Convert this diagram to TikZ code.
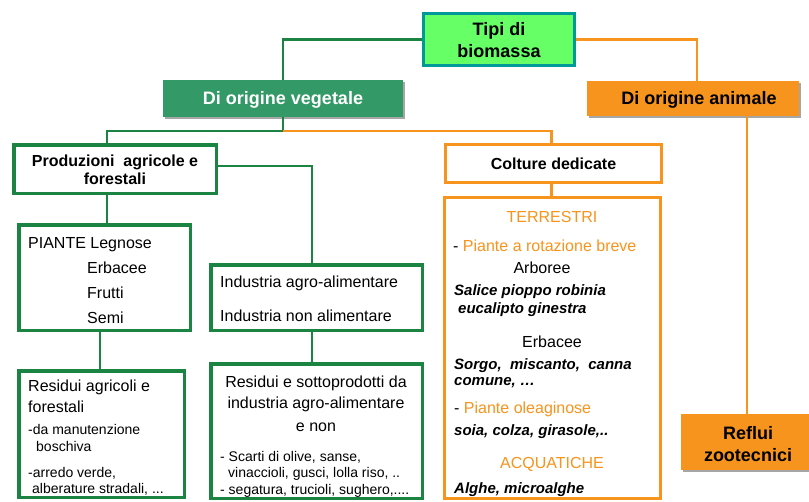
\documentclass[tikz,border=0pt]{standalone}
\usepackage{fontspec}
\setmainfont{Liberation Sans}
\usetikzlibrary{shadows}
\definecolor{gline}{HTML}{1C8442}
\definecolor{oline}{HTML}{F7941D}
\definecolor{tipifill}{HTML}{66FF66}
\definecolor{tipiborder}{HTML}{009999}
\definecolor{vegfill}{HTML}{339966}
\tikzset{
  glink/.style={draw=gline, line width=2.5pt},
  olink/.style={draw=oline, line width=2.5pt},
  gbox/.style={draw=gline, line width=3.5pt, fill=white, inner sep=0pt},
  obox/.style={draw=oline, line width=3pt, fill=white, inner sep=0pt},
  shd/.style={drop shadow={shadow xshift=1.5pt, shadow yshift=-1.5pt, fill=black, opacity=0.35}},
  tw/.style={inner sep=0pt, anchor=base west},
  tc/.style={inner sep=0pt, anchor=base},
  fb/.style={font=\fontsize{16}{19}\selectfont\bfseries},
  fr/.style={font=\fontsize{16}{19}\selectfont},
  fs/.style={font=\fontsize{14}{17}\selectfont},
  fi/.style={font=\fontsize{15}{18}\selectfont\bfseries\itshape},
  fl/.style={font=\fontsize{18}{22}\selectfont\bfseries},
}
\begin{document}
\begin{tikzpicture}[x=1pt,y=-1pt]
\useasboundingbox (0,0) rectangle (809,501);
\fill[white] (0,0) rectangle (809,501);

% helper coordinates for connector columns
\coordinate (c1) at (107,0);
\coordinate (c2) at (312,0);
\coordinate (c3) at (100,0);
\coordinate (c4) at (551.5,0);
\coordinate (c5) at (747,0);
\coordinate (c6) at (697,0);

% boxes
\node[draw=tipiborder, line width=3pt, fill=tipifill, inner sep=0pt, minimum width=151pt, minimum height=52pt] (tipi) at (499,39.5) {};
\node[fill=vegfill, shd, inner sep=0pt, minimum width=240pt, minimum height=37pt] (veg) at (283,98.5) {};
\node[fill=oline, shd, inner sep=0pt, minimum width=212pt, minimum height=35pt] (ani) at (693,98.5) {};
\node[gbox, minimum width=202.5pt, minimum height=48.5pt] (prod) at (115,169) {};
\node[gbox, minimum width=171.5pt, minimum height=105.5pt] (piante) at (104.5,277.5) {};
\node[gbox, minimum width=211.5pt, minimum height=65.5pt] (ind) at (316.5,297.5) {};
\node[gbox, minimum width=165.5pt, minimum height=126.5pt] (resA) at (101.5,434) {};
\node[gbox, minimum width=211.5pt, minimum height=134.5pt] (resB) at (316.5,431) {};
\node[obox, minimum width=216pt, minimum height=38pt] (colt) at (553.5,163.5) {};
\node[obox, minimum width=216pt, minimum height=301pt] (terr) at (552.5,348) {};
\node[fill=oline, shd, inner sep=0pt, minimum width=131pt, minimum height=56pt] (reflui) at (746.5,442) {};

% connectors
\coordinate (vj) at (283,131);
\draw[glink] (tipi.west) -| (veg.north);
\draw[olink] (tipi.east) -| (ani.north -| c6);
\draw[glink] (veg.south) -- (vj);
\draw[glink] (vj) -| (prod.north -| c1);
\draw[olink] (vj) -| (colt.north -| c4);
\draw[glink] (prod.south -| c1) -- (piante.north -| c1);
\draw[glink] ([yshift=3pt]prod.east) -| (ind.north -| c2);
\draw[glink] (piante.south -| c3) -- (resA.north -| c3);
\draw[glink] (ind.south -| c2) -- (resB.north -| c2);
\draw[olink] (colt.south -| c4) -- (terr.north -| c4);
\draw[olink] (ani.south -| c5) -- (reflui.north -| c5);

% texts: top
\node[tc, fl] (t1) at (499,35) {Tipi di};
\node[tc, fl] (t2) at (499,57) {biomassa};
\node[tc, fl, text=white] (t3) at (283,104) {Di origine vegetale};
\node[tc, fl] (t4) at (699,104) {Di origine animale};
\node[tc, fl] (t5) at (748,439) {Reflui};
\node[tc, fl] (t6) at (748,461) {zootecnici};

% left column
\node[tc, fb] (t7) at (115,166) {Produzioni\ \ agricole e};
\node[tc, fb] (t8) at (115,184) {forestali};
\node[tw, fr] (t9) at (28,248) {PIANTE Legnose};
\node[tw, fr] (t10) at (87,273) {Erbacee};
\node[tw, fr] (t11) at (87,298) {Frutti};
\node[tw, fr] (t12) at (87,323) {Semi};
\node[tw, fr] (t13) at (28,391) {Residui agricoli e};
\node[tw, fr] (t14) at (28,412) {forestali};
\node[tw, fs] (t15) at (28,434) {-da manutenzione};
\node[tw, fs] (t16) at (36,451) {boschiva};
\node[tw, fs] (t17) at (28,477) {-arredo verde,};
\node[tw, fs] (t18) at (32,493) {alberature stradali, ...};

% middle column
\node[tw, fr] (t19) at (220,287) {Industria agro-alimentare};
\node[tw, fr] (t20) at (220,321) {Industria non alimentare};
\node[tc, fr] (t21) at (316,387) {Residui e sottoprodotti da};
\node[tc, fr] (t22) at (316,408) {industria agro-alimentare};
\node[tc, fr] (t23) at (316,431) {e non};
\node[tw, fs] (t24) at (220,461) {- Scarti di olive, sanse,};
\node[tw, fs] (t25) at (228,477) {vinaccioli, gusci, lolla riso, ..};
\node[tw, fs] (t26) at (220,494) {- segatura, trucioli, sughero,....};

% right column
\node[tc, fb] (t27) at (553.5,169) {Colture dedicate};
\node[tc, fr, text=oline] (t28) at (552,222) {TERRESTRI};
\node[tw, fr] (t29) at (453,251) {- \textcolor{oline}{Piante a rotazione breve}};
\node[tc, fr] (t30) at (542,273) {Arboree};
\node[tw, fi] (t31) at (454,295) {Salice pioppo robinia};
\node[tw, fi] (t32) at (458,313) {eucalipto ginestra};
\node[tc, fr] (t33) at (552,347) {Erbacee};
\node[tw, fi] (t34) at (454,369) {Sorgo,\ \ miscanto,\ \ canna};
\node[tw, fi] (t35) at (454,385) {comune, \dots};
\node[tw, fr] (t36) at (454,413) {- \textcolor{oline}{Piante oleaginose}};
\node[tw, fi] (t37) at (454,435) {soia, colza, girasole,..};
\node[tc, fr, text=oline] (t38) at (552,468) {ACQUATICHE};
\node[tw, fi] (t39) at (454,493) {Alghe, microalghe};
\end{tikzpicture}
\end{document}
